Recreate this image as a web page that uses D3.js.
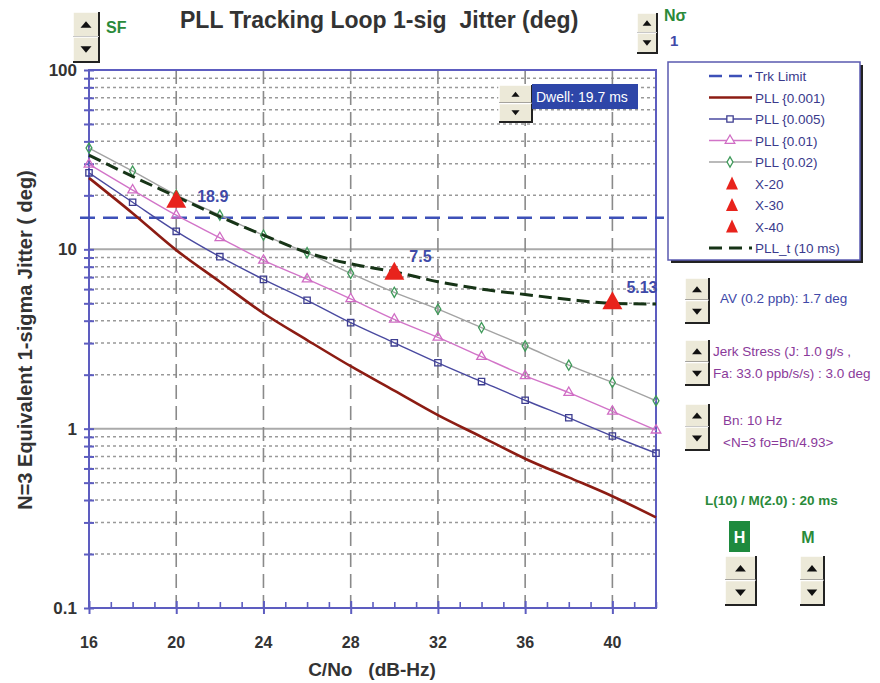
<!DOCTYPE html>
<html>
<head>
<meta charset="utf-8">
<script src="https://cdn.jsdelivr.net/npm/d3@7"></script>
<style>
  body { margin: 0; background: #fff; }
  text { font-family: "Liberation Sans", Arial, sans-serif; }
</style>
</head>
<body>
<script>
// C/No values (dB-Hz) where the curves are sampled
var cno = [16, 18, 20, 22, 24, 26, 28, 30, 32, 34, 36, 38, 40, 42];
// jitter (deg)
var pll001 = [25.0, 15.9, 9.9, 6.6, 4.4, 3.12, 2.23, 1.63, 1.19, 0.90, 0.68, 0.535, 0.42, 0.32];
var pll005 = [26.7, 18.3, 12.6, 9.1, 6.8, 5.2, 3.9, 3.01, 2.33, 1.83, 1.44, 1.15, 0.91, 0.73];
var pll01 = [29.8, 21.4, 15.5, 11.6, 8.67, 6.82, 5.3, 4.07, 3.23, 2.52, 1.97, 1.59, 1.25, 0.98];
var pll02 = [36.7, 27.3, 20.1, 15.5, 12.0, 9.57, 7.35, 5.76, 4.64, 3.66, 2.89, 2.26, 1.81, 1.43];
var pllT = [33.5, 25.5, 19.7, 15.2, 12.0, 9.6, 8.3, 7.5, 6.6, 6.0, 5.6, 5.25, 5.0, 4.95];
var trkLimit = 15;

// red marker points
var markNames = ["X-20", "X-30", "X-40"];
var markX = [20, 30, 40];
var markV = [18.9, 7.5, 5.13];
var markLabels = ["18.9", "7.5", "5.13"];

var xTicks = [16, 20, 24, 28, 32, 36, 40];
var yTicks = [0.1, 1, 10, 100];
var yTickLabels = ["0.1", "1", "10", "100"];

var legendNames = ["Trk Limit", "PLL {0.001)", "PLL {0.005)", "PLL {0.01)", "PLL {0.02)",
    "X-20", "X-30", "X-40", "PLL_t (10 ms)"];

var W = 880, H = 683;
var svg = d3.select("body").append("svg")
    .attr("width", W)
    .attr("height", H);

svg.append("rect").attr("width", W).attr("height", H).attr("fill", "#fff");

var x = d3.scaleLinear().domain([16, 42]).range([89, 656]);
var y = d3.scaleLog().domain([0.1, 100]).range([608, 70]);

var axisBlue = "#5d5dc0";

//---------------- grid ----------------
var minor = [];
[0.1, 1, 10].forEach(function(d) {
    for (var k = 2; k <= 9; k++) minor.push(d * k);
});

svg.append("g").selectAll("line")
    .data(minor)
    .enter().append("line")
    .attr("x1", x(16)).attr("x2", x(42))
    .attr("y1", function(d) { return y(d); })
    .attr("y2", function(d) { return y(d); })
    .attr("stroke", "#999")
    .attr("stroke-width", 1.5)
    .attr("stroke-dasharray", "3,3");

svg.append("g").selectAll("line")
    .data([1, 10])
    .enter().append("line")
    .attr("x1", x(16)).attr("x2", x(42))
    .attr("y1", function(d) { return y(d); })
    .attr("y2", function(d) { return y(d); })
    .attr("stroke", "#aaa")
    .attr("stroke-width", 2);

svg.append("g").selectAll("line")
    .data(xTicks.slice(1))
    .enter().append("line")
    .attr("x1", function(d) { return x(d); })
    .attr("x2", function(d) { return x(d); })
    .attr("y1", y(100)).attr("y2", y(0.1))
    .attr("stroke", "#8a8a8a")
    .attr("stroke-width", 1.6)
    .attr("stroke-dasharray", "14,7");

//---------------- axes / frame ----------------
var yAxis = d3.axisLeft(y)
    .tickValues(yTicks.concat(minor))
    .tickSize(5)
    .tickFormat("");
var gy = svg.append("g").attr("transform", "translate(" + x(16) + ",0)").call(yAxis);
// ticks cross the axis line
gy.selectAll(".tick line").attr("x1", 5).attr("x2", -5).attr("stroke", axisBlue).attr("stroke-width", 2);
gy.select(".domain").remove();

var xMinor = d3.range(17, 43).filter(function(d) { return xTicks.indexOf(d) < 0; });
var xAxis = d3.axisBottom(x).tickValues(xTicks).tickSize(6).tickFormat("");
var gx = svg.append("g").attr("transform", "translate(0," + y(0.1) + ")").call(xAxis);
gx.selectAll(".tick line").attr("y1", -7).attr("y2", 6).attr("stroke", axisBlue).attr("stroke-width", 2);
gx.select(".domain").remove();
var xAxisMinor = d3.axisTop(x).tickValues(xMinor).tickSize(6).tickFormat("");
var gxm = svg.append("g").attr("transform", "translate(0," + y(0.1) + ")").call(xAxisMinor);
gxm.selectAll(".tick line").attr("stroke", axisBlue).attr("stroke-width", 1.6);
gxm.select(".domain").remove();

svg.append("rect")
    .attr("x", x(16)).attr("y", y(100))
    .attr("width", x(42) - x(16)).attr("height", y(0.1) - y(100))
    .attr("fill", "none")
    .attr("stroke", axisBlue)
    .attr("stroke-width", 2);

// tick labels
svg.append("g").selectAll("text")
    .data(yTicks)
    .enter().append("text")
    .attr("x", 77)
    .attr("y", function(d) { return y(d) + 6; })
    .attr("text-anchor", "end")
    .attr("font-size", 17)
    .attr("font-weight", "bold")
    .attr("fill", "#333")
    .text(function(d, i) { return yTickLabels[i]; });

svg.append("g").selectAll("text")
    .data(xTicks)
    .enter().append("text")
    .attr("x", function(d) { return x(d); })
    .attr("y", 648)
    .attr("text-anchor", "middle")
    .attr("font-size", 16)
    .attr("font-weight", "bold")
    .attr("fill", "#333")
    .text(function(d) { return d; });

svg.append("text")
    .attr("x", 372).attr("y", 676)
    .attr("text-anchor", "middle")
    .attr("font-size", 19)
    .attr("font-weight", "bold")
    .attr("fill", "#333")
    .attr("xml:space", "preserve")
    .text("C/No   (dB-Hz)");

svg.append("text")
    .attr("transform", "translate(32,340) rotate(-90)")
    .attr("text-anchor", "middle")
    .attr("font-size", 20)
    .attr("font-weight", "bold")
    .attr("fill", "#333")
    .text("N=3 Equivalent 1-sigma Jitter ( deg)");

svg.append("text")
    .attr("x", 180).attr("y", 28)
    .attr("font-size", 23)
    .attr("font-weight", "bold")
    .attr("fill", "#333")
    .attr("xml:space", "preserve")
    .text("PLL Tracking Loop 1-sig  Jitter (deg)");

//---------------- series ----------------
var series = [
    {vals: pll001, color: "#8c1c13", width: 2.6, marker: null},
    {vals: pll005, color: "#4a4aa0", width: 1.4, marker: "square"},
    {vals: pll01, color: "#d274c8", width: 1.4, marker: "triangle"},
    {vals: pll02, color: "#a3a3a3", width: 1.4, marker: "diamond"}
];
var markerColor = {square: "#3d3d90", triangle: "#d06cc4", diamond: "#3f9a5a"};

var plot = svg.append("g");

// Trk limit
plot.append("line")
    .attr("x1", 80).attr("x2", 664)
    .attr("y1", y(trkLimit)).attr("y2", y(trkLimit))
    .attr("stroke", "#3d50b8")
    .attr("stroke-width", 2.6)
    .attr("stroke-dasharray", "15,8");

series.forEach(function(s) {
    var line = d3.line()
        .x(function(d, i) { return x(cno[i]); })
        .y(function(d) { return y(d); })
        .curve(d3.curveMonotoneX);
    plot.append("path")
        .datum(s.vals)
        .attr("d", line)
        .attr("fill", "none")
        .attr("stroke", s.color)
        .attr("stroke-width", s.width);
    if (s.marker) {
        var sym = s.marker == "square" ? d3.symbolSquare :
            (s.marker == "triangle" ? d3.symbolTriangle : d3.symbolDiamond);
        var size = s.marker == "diamond" ? 30 : 40;
        plot.append("g").selectAll("path")
            .data(s.vals)
            .enter().append("path")
            .attr("transform", function(d, i) { return "translate(" + x(cno[i]) + "," + y(d) + ")"; })
            .attr("d", d3.symbol().type(sym).size(size))
            .attr("fill", "#fff")
            .attr("fill-opacity", 0)
            .attr("stroke", markerColor[s.marker])
            .attr("stroke-width", 1.3);
    }
});

var lineT = d3.line()
    .x(function(d, i) { return x(cno[i]); })
    .y(function(d) { return y(d); })
    .curve(d3.curveMonotoneX);
plot.append("path")
    .datum(pllT)
    .attr("d", lineT)
    .attr("fill", "none")
    .attr("stroke", "#173417")
    .attr("stroke-width", 3)
    .attr("stroke-dasharray", "13,6");

// red triangles and their values
markX.forEach(function(mx, i) {
    plot.append("path")
        .attr("transform", "translate(" + x(mx) + "," + y(markV[i]) + ")")
        .attr("d", "M0,-10L10,8L-10,8Z")
        .attr("fill", "#e8231c");
});
var labelOff = [[21, 2], [15, -10], [14, -8]];
markX.forEach(function(mx, i) {
    svg.append("text")
        .attr("x", x(mx) + labelOff[i][0])
        .attr("y", y(markV[i]) + labelOff[i][1])
        .attr("font-size", 16)
        .attr("font-weight", "bold")
        .attr("fill", "#3f4aa8")
        .text(markLabels[i]);
});

//---------------- spinner buttons ----------------
function spinner(px, py, w, h) {
    var g = svg.append("g").attr("transform", "translate(" + px + "," + py + ")");
    var bh = h / 2;
    [0, 1].forEach(function(i) {
        var by = i * bh;
        g.append("rect")
            .attr("x", 0).attr("y", by)
            .attr("width", w).attr("height", bh)
            .attr("fill", "#ece9d8");
        g.append("path")
            .attr("d", "M0," + (by + bh) + "V" + by + "H" + w)
            .attr("fill", "none").attr("stroke", "#fff").attr("stroke-width", 1.5);
        g.append("path")
            .attr("d", "M" + w + "," + by + "V" + (by + bh) + "H0")
            .attr("fill", "none").attr("stroke", "#222").attr("stroke-width", 2);
        var cx = w / 2, cy = by + bh / 2, s = Math.min(w, bh) * 0.22;
        var d = i == 0 ?
            "M" + (cx - s) + "," + (cy + s * 0.6) + "L" + (cx + s) + "," + (cy + s * 0.6) + "L" + cx + "," + (cy - s * 0.6) + "Z" :
            "M" + (cx - s) + "," + (cy - s * 0.6) + "L" + (cx + s) + "," + (cy - s * 0.6) + "L" + cx + "," + (cy + s * 0.6) + "Z";
        g.append("path").attr("d", d).attr("fill", "#111");
    });
}

spinner(73, 12, 26, 50);
svg.append("text").attr("x", 106).attr("y", 33)
    .attr("font-size", 16).attr("font-weight", "bold").attr("fill", "#2a8a3a").text("SF");

spinner(637, 13, 20, 40);
svg.append("text").attr("x", 664).attr("y", 21)
    .attr("font-size", 16).attr("font-weight", "bold").attr("fill", "#2a8a3a")
    .attr("font-family", "Liberation Serif, serif").text("Nσ");
svg.append("text").attr("x", 670).attr("y", 46)
    .attr("font-size", 15).attr("font-weight", "bold").attr("fill", "#3f4aa8").text("1");

// dwell
spinner(499, 85, 33, 37);
svg.append("rect").attr("x", 532).attr("y", 84).attr("width", 106).attr("height", 25).attr("fill", "#2e46a8");
svg.append("text").attr("x", 536).attr("y", 102)
    .attr("font-size", 14).attr("fill", "#fff").text("Dwell: 19.7 ms");

//---------------- legend ----------------
var lg = svg.append("g");
lg.append("rect").attr("x", 671).attr("y", 65).attr("width", 192).attr("height", 198).attr("fill", "#222");
lg.append("rect").attr("x", 668).attr("y", 62).attr("width", 192).attr("height", 198)
    .attr("fill", "#fff").attr("stroke", "#5a5ab0").attr("stroke-width", 1.5);

var rowY = function(i) { return 76 + i * 21.5; };
var lx1 = 709, lx2 = 752, lmid = 730;
legendNames.forEach(function(name, i) {
    var ry = rowY(i);
    if (i == 0) {
        lg.append("line").attr("x1", lx1).attr("x2", lx2).attr("y1", ry).attr("y2", ry)
            .attr("stroke", "#3d50b8").attr("stroke-width", 2.6).attr("stroke-dasharray", "13,7");
    } else if (i >= 1 && i <= 4) {
        var s = series[i - 1];
        lg.append("line").attr("x1", lx1).attr("x2", lx2).attr("y1", ry).attr("y2", ry)
            .attr("stroke", s.color).attr("stroke-width", s.width);
        if (s.marker) {
            var sym = s.marker == "square" ? d3.symbolSquare :
                (s.marker == "triangle" ? d3.symbolTriangle : d3.symbolDiamond);
            lg.append("path").attr("transform", "translate(" + lmid + "," + ry + ")")
                .attr("d", d3.symbol().type(sym).size(s.marker == "diamond" ? 30 : 40))
                .attr("fill", "#fff").attr("stroke", markerColor[s.marker]).attr("stroke-width", 1.3);
        }
    } else if (i >= 5 && i <= 7) {
        lg.append("path").attr("transform", "translate(" + (lmid + 2) + "," + ry + ")")
            .attr("d", "M0,-7L6,6L-6,6Z").attr("fill", "#e8231c");
    } else {
        lg.append("line").attr("x1", lx1).attr("x2", lx2).attr("y1", ry).attr("y2", ry)
            .attr("stroke", "#173417").attr("stroke-width", 3).attr("stroke-dasharray", "13,7");
    }
    lg.append("text").attr("x", 755).attr("y", ry + 5)
        .attr("font-size", 13.5).attr("fill", "#3a3a8c").text(name);
});

//---------------- right panel ----------------
spinner(685, 278, 24, 45);
svg.append("text").attr("x", 720).attr("y", 303)
    .attr("font-size", 13.5).attr("fill", "#4048a8").text("AV (0.2 ppb): 1.7 deg");

spinner(685, 340, 24, 45);
svg.append("text").attr("x", 713).attr("y", 356)
    .attr("font-size", 13.5).attr("fill", "#8a3a9a").text("Jerk Stress (J: 1.0 g/s ,");
svg.append("text").attr("x", 713).attr("y", 378)
    .attr("font-size", 13.5).attr("fill", "#8a3a9a").text("Fa: 33.0 ppb/s/s) : 3.0 deg");

spinner(685, 404, 24, 46);
svg.append("text").attr("x", 723).attr("y", 425)
    .attr("font-size", 13.5).attr("fill", "#8a3a9a").text("Bn: 10 Hz");
svg.append("text").attr("x", 723).attr("y", 447)
    .attr("font-size", 13.5).attr("fill", "#8a3a9a").text("<N=3  fo=Bn/4.93>");

svg.append("text").attr("x", 705).attr("y", 505)
    .attr("font-size", 13.5).attr("font-weight", "bold").attr("fill", "#2a8a3a")
    .text("L(10) / M(2.0) : 20 ms");

svg.append("rect").attr("x", 729).attr("y", 521).attr("width", 21).attr("height", 31).attr("fill", "#1e8a3e");
svg.append("text").attr("x", 739.5).attr("y", 543).attr("text-anchor", "middle")
    .attr("font-size", 16).attr("font-weight", "bold").attr("fill", "#fff").text("H");
svg.append("text").attr("x", 808).attr("y", 543).attr("text-anchor", "middle")
    .attr("font-size", 16).attr("font-weight", "bold").attr("fill", "#2a8a3a").text("M");

spinner(725, 556, 31, 49);
spinner(800, 556, 24, 49);
</script>
</body>
</html>
